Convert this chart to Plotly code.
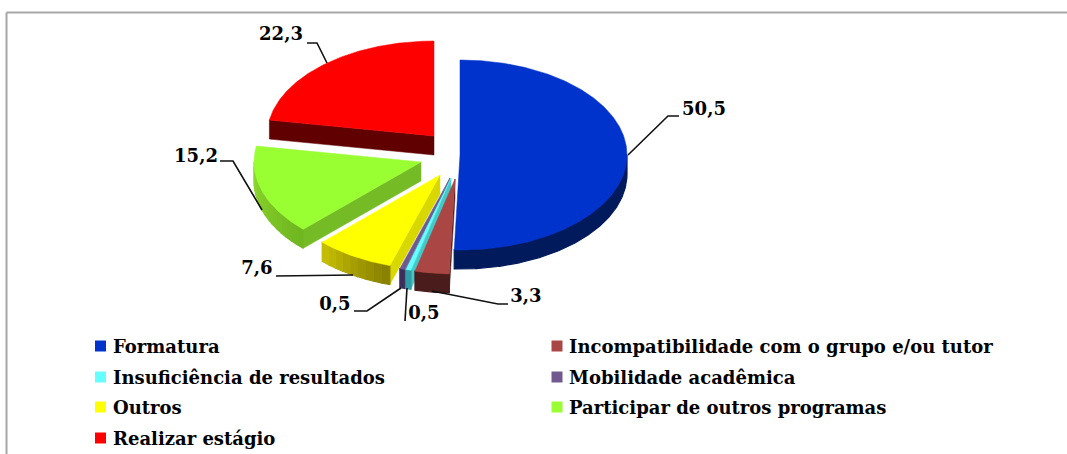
import math
import plotly.graph_objects as go

# ---- data ----
categories = ["Formatura", "Incompatibilidade com o grupo e/ou tutor", "Insuficiência de resultados",
              "Mobilidade acadêmica", "Outros", "Participar de outros programas", "Realizar estágio"]
values = [50.5, 3.3, 0.5, 0.5, 7.6, 15.2, 22.3]
colors = ["#0033cc", "#aa4643", "#66ffff", "#71588f", "#ffff00", "#99ff33", "#ff0000"]

# ---- style / layout ----
W, H = 1067, 454
RX, RY, DEPTH = 167, 95, 19
centres = [(460, 155), (455, 179), (451, 178), (450, 178), (440, 175), (421, 162), (434, 136)]
wall_from = ["#001a5c", "#4a1c1c", "#2f9ea6", "#3c2f5c", "#857d00", "#6fb51f", "#600000"]
wall_to = ["#001a5c", "#4a1c1c", "#2f9ea6", "#3c2f5c", "#c8c000", "#8fd92f", "#600000"]
face_colors = ["#001a5c", "#4a1c1c", "#45c8c8", "#5a4678", "#d8d800", "#75bb25", "#600000"]
draw_order = [6, 5, 0, 4, 3, 2, 1]
FONT = "DejaVu Serif"
label_xy = [(704, 110), (526, 297), (424, 314), (335, 305), (257, 269), (196, 157), (281, 35)]
leaders = [
    [(679, 116), (668, 116), (628, 155)],
    [(508, 304), (498, 304), (432, 291)],
    [(405, 321), (407, 288)],
    [(354, 311), (367, 311), (401, 288)],
    [(276, 276), (353, 275)],
    [(220, 161), (233, 161), (262, 210)],
    [(307, 43), (317, 43), (327, 63)],
]
legend_cols = [(100.5, 113), (557, 569)]
legend_rows = [346, 377, 407, 438]


def rim(c, deg, dy=0):
    a = math.radians(deg)
    return c[0] + RX * math.sin(a), c[1] - RY * math.cos(a) + dy


def mix(c1, c2, t):
    p = [int(c1[i:i + 2], 16) for i in (1, 3, 5)]
    q = [int(c2[i:i + 2], 16) for i in (1, 3, 5)]
    return "#%02x%02x%02x" % tuple(round(a + (b - a) * t) for a, b in zip(p, q))


def poly(pts, color, name, lw=0.5):
    return go.Scatter(x=[p[0] for p in pts] + [pts[0][0]], y=[p[1] for p in pts] + [pts[0][1]],
                      mode="lines", fill="toself", fillcolor=color,
                      line=dict(color=color, width=lw), name=name, showlegend=False,
                      hoverinfo="name")


total = sum(values)
starts, acc = [], 0.0
for v in values:
    starts.append(acc / total * 360)
    acc += v

fig = go.Figure()
for i in draw_order:
    c = centres[i]
    a0 = starts[i]
    a1 = a0 + values[i] / total * 360
    # radial side face
    if 180 < a0 < 360:
        top = rim(c, a0)
        fig.add_trace(poly([c, top, (top[0], top[1] + DEPTH), (c[0], c[1] + DEPTH)], face_colors[i], categories[i]))
    # outer wall, in strips only where it is shaded
    lo, hi = max(a0, 90), min(a1, 270)
    if hi > lo:
        n = 1 if wall_from[i] == wall_to[i] else max(1, int((hi - lo) / 3))
        for k in range(n):
            s0 = lo + (hi - lo) * k / n
            s1 = lo + (hi - lo) * (k + 1) / n
            m = max(2, int(s1 - s0) * 2)
            steps = [s0 + (s1 - s0) * j / m for j in range(m + 1)]
            pts = [rim(c, s) for s in steps] + [rim(c, s, DEPTH) for s in reversed(steps)]
            fig.add_trace(poly(pts, mix(wall_from[i], wall_to[i], (k + .5) / n), categories[i], lw=1.2))
    # top face
    m = max(2, int((a1 - a0) * 2))
    fig.add_trace(poly([c] + [rim(c, a0 + (a1 - a0) * j / m) for j in range(m + 1)], colors[i], categories[i]))

# leaders and value labels
for pts in leaders:
    fig.add_trace(go.Scatter(x=[p[0] for p in pts], y=[p[1] for p in pts], mode="lines",
                             line=dict(color="#111111", width=1.6), showlegend=False, hoverinfo="skip"))
fig.add_trace(go.Scatter(x=[p[0] for p in label_xy], y=[p[1] for p in label_xy], mode="text",
                         text=[f"{v:.1f}".replace(".", ",") for v in values], textposition="middle center",
                         textfont=dict(family=FONT, size=18, color="black", weight="bold"),
                         showlegend=False, hoverinfo="skip"))

# legend: two columns filled row by row
for i, name in enumerate(categories):
    col, row = legend_cols[i % 2], legend_rows[i // 2]
    fig.add_trace(go.Scatter(x=[col[0]], y=[row], mode="markers",
                             marker=dict(symbol="square", size=11, color=colors[i]),
                             showlegend=False, name=name, hoverinfo="name"))
    fig.add_annotation(x=col[1], y=row, text=name, showarrow=False, xanchor="left", yanchor="middle",
                       xshift=-2, font=dict(family=FONT, size=18, color="black", weight="bold"))

# frame: only the top and left edges are inside the picture
fig.add_shape(type="line", x0=6.5, x1=W, y0=12.5, y1=12.5, line=dict(color="#a6a6a6", width=2), layer="below")
fig.add_shape(type="line", x0=6.5, x1=6.5, y0=12.5, y1=H, line=dict(color="#a6a6a6", width=2), layer="below")
fig.update_layout(width=W, height=H, margin=dict(l=0, r=0, t=0, b=0), paper_bgcolor="white", plot_bgcolor="white",
                  xaxis=dict(range=[0, W], visible=False, fixedrange=True),
                  yaxis=dict(range=[H, 0], visible=False, fixedrange=True),
                  showlegend=False)
fig.write_html("out.html", config=dict(displayModeBar=False),
               post_script="document.body.style.margin='0';document.body.style.overflow='hidden';")
